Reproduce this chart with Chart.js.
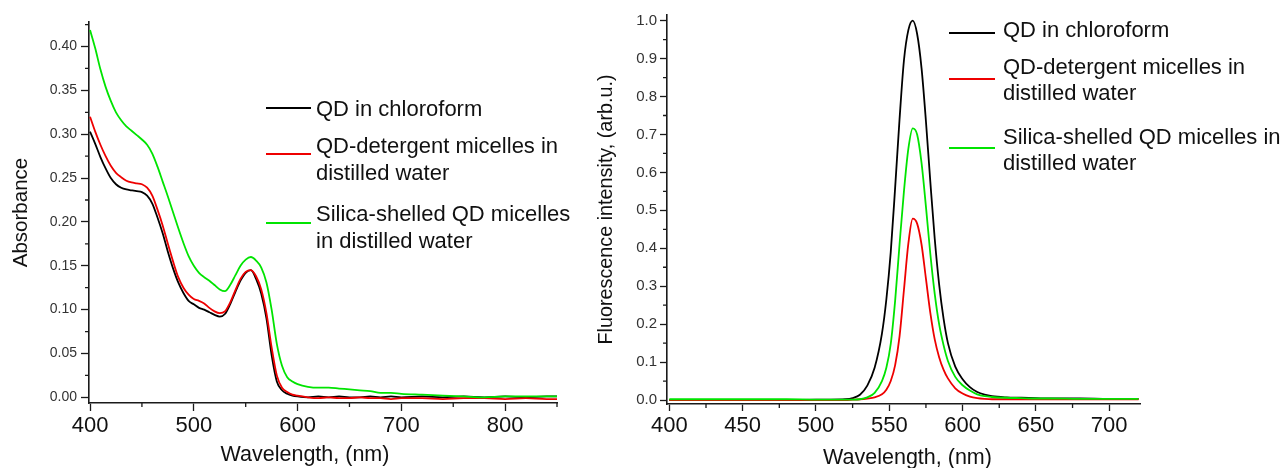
<!DOCTYPE html>
<html>
<head>
<meta charset="utf-8">
<title>QD absorbance and fluorescence spectra</title>
<script src="https://cdn.jsdelivr.net/npm/chart.js@4.4.0/dist/chart.umd.min.js"></script>
<style>
  html, body { margin: 0; padding: 0; background: #fff; }
  #wrap { position: relative; width: 1283px; height: 468px; overflow: hidden; }
  #absCanvas { position: absolute; left: 0; top: 0; }
  #flCanvas { position: absolute; left: 580px; top: 0; }
</style>
</head>
<body>
<div id="wrap">
  <canvas id="absCanvas" width="580" height="468"></canvas>
  <canvas id="flCanvas" width="703" height="468"></canvas>
</div>
<script>
// ---- Absorbance spectra (left panel) ----
const absWavelength = [
  400, 405, 410, 415, 420, 425, 430, 435, 440, 445,
  450, 455, 460, 465, 470, 475, 480, 485, 490, 495,
  500, 505, 510, 515, 520, 525, 530, 535, 540, 545,
  550, 555, 560, 565, 570, 575, 580, 585, 590, 595,
  600, 610, 620, 630, 640, 650, 660, 670, 680, 690,
  700, 720, 740, 760, 780, 800, 820, 840, 850
];
const absChloroform = [
  0.303, 0.289, 0.274, 0.261, 0.250, 0.243, 0.239, 0.237, 0.236, 0.235,
  0.234, 0.230, 0.221, 0.205, 0.187, 0.166, 0.147, 0.131, 0.119, 0.110,
  0.106, 0.102, 0.100, 0.097, 0.094, 0.092, 0.095, 0.106, 0.120, 0.133,
  0.142, 0.145, 0.135, 0.118, 0.090, 0.048, 0.018, 0.008, 0.004, 0.002,
  0.001, 0.000, 0.001, 0.000, 0.001, 0.000, 0.000, 0.001, 0.000, 0.001,
  0.000, 0.001, 0.000, 0.001, 0.000, 0.001, 0.000, 0.001, 0.001
];
const absMicelles = [
  0.320, 0.303, 0.288, 0.275, 0.264, 0.256, 0.251, 0.247, 0.245, 0.244,
  0.243, 0.239, 0.230, 0.214, 0.196, 0.175, 0.155, 0.137, 0.125, 0.117,
  0.112, 0.110, 0.107, 0.102, 0.098, 0.096, 0.098, 0.108, 0.122, 0.135,
  0.143, 0.145, 0.138, 0.123, 0.096, 0.057, 0.025, 0.011, 0.006, 0.003,
  0.002, 0.000, -0.001, 0.000, -0.001, -0.001, 0.000, -0.001, -0.001, -0.002,
  -0.001, -0.001, -0.002, -0.001, -0.001, -0.002, -0.001, -0.002, -0.002
];
const absSilica = [
  0.419, 0.398, 0.374, 0.354, 0.338, 0.325, 0.316, 0.309, 0.304, 0.299,
  0.294, 0.288, 0.278, 0.263, 0.246, 0.229, 0.211, 0.193, 0.176, 0.161,
  0.150, 0.142, 0.137, 0.133, 0.128, 0.123, 0.121, 0.128, 0.139, 0.150,
  0.157, 0.160, 0.156, 0.148, 0.131, 0.100, 0.061, 0.036, 0.023, 0.018,
  0.015, 0.012, 0.011, 0.011, 0.010, 0.009, 0.008, 0.007, 0.005, 0.005,
  0.004, 0.003, 0.002, 0.001, 0.000, 0.001, 0.001, 0.001, 0.001
];
const absXTicks = [400, 500, 600, 700, 800];
const absXMinor = [450, 550, 650, 750, 850];
const absYTicks = [0, 0.05, 0.10, 0.15, 0.20, 0.25, 0.30, 0.35, 0.40];
const absYMinor = [0.025, 0.075, 0.125, 0.175, 0.225, 0.275, 0.325, 0.375, 0.425];

// ---- Fluorescence spectra (right panel) ----
const flWavelength = [
  400, 420, 440, 460, 480, 500, 510, 520, 525, 530,
  535, 540, 545, 548, 551, 554, 557, 560, 563, 566,
  569, 572, 575, 578, 581, 584, 587, 590, 595, 600,
  605, 610, 615, 620, 630, 640, 650, 660, 680, 700, 720
];
const flChloroform = [
  0.000, 0.000, 0.000, 0.000, 0.000, 0.001, 0.001, 0.002, 0.005, 0.014,
  0.038, 0.085, 0.175, 0.265, 0.390, 0.560, 0.740, 0.895, 0.975, 1.000,
  0.965, 0.875, 0.735, 0.575, 0.425, 0.305, 0.215, 0.150, 0.088, 0.055,
  0.034, 0.021, 0.014, 0.010, 0.007, 0.006, 0.005, 0.004, 0.004, 0.003, 0.003
];
const flMicelles = [
  0.000, 0.000, 0.000, 0.000, 0.000, 0.000, 0.000, 0.000, 0.001, 0.002,
  0.004, 0.007, 0.015, 0.027, 0.050, 0.092, 0.168, 0.290, 0.412, 0.478,
  0.465, 0.410, 0.320, 0.230, 0.160, 0.113, 0.080, 0.057, 0.031, 0.017,
  0.009, 0.005, 0.003, 0.002, 0.002, 0.002, 0.002, 0.002, 0.002, 0.002, 0.002
];
const flSilica = [
  0.002, 0.002, 0.002, 0.002, 0.002, 0.001, 0.001, 0.001, 0.001, 0.002,
  0.007, 0.019, 0.050, 0.085, 0.148, 0.262, 0.410, 0.550, 0.662, 0.716,
  0.700, 0.625, 0.510, 0.385, 0.280, 0.200, 0.145, 0.103, 0.061, 0.039,
  0.025, 0.015, 0.010, 0.008, 0.006, 0.005, 0.004, 0.004, 0.003, 0.003, 0.003
];
const flXTicks = [400, 450, 500, 550, 600, 650, 700];
const flXMinor = [425, 475, 525, 575, 625, 675];
const flYTicks = [0, 0.1, 0.2, 0.3, 0.4, 0.5, 0.6, 0.7, 0.8, 0.9, 1.0];
const flYMinor = [0.05, 0.15, 0.25, 0.35, 0.45, 0.55, 0.65, 0.75, 0.85, 0.95];

const seriesNames = [
  'QD in chloroform',
  'QD-detergent micelles in distilled water',
  'Silica-shelled QD micelles in distilled water'
];
const absLegendLines = [
  ['QD in chloroform'],
  ['QD-detergent micelles in', 'distilled water'],
  ['Silica-shelled QD micelles', 'in distilled water']
];
const flLegendLines = [
  ['QD in chloroform'],
  ['QD-detergent micelles in', 'distilled water'],
  ['Silica-shelled QD micelles in', 'distilled water']
];
const seriesColors = ['#000000', '#ee0000', '#00e400'];

const FONT = "Arial, 'Liberation Sans', sans-serif";
const AXIS_COLOR = '#1a1a1a';
Chart.defaults.font.family = FONT;

// small ticks between the labelled ones
const minorTicks = {
  id: 'minorTicks',
  afterDraw(chart, args, opts) {
    const ctx = chart.ctx;
    const xs = chart.scales.x, ys = chart.scales.y;
    ctx.save();
    ctx.strokeStyle = AXIS_COLOR;
    ctx.lineWidth = 1.3;
    ctx.beginPath();
    opts.xValues.forEach(v => {
      const px = xs.getPixelForValue(v);
      ctx.moveTo(px, xs.top);
      ctx.lineTo(px, xs.top + opts.length);
    });
    opts.yValues.forEach(v => {
      const py = ys.getPixelForValue(v);
      ctx.moveTo(ys.right, py);
      ctx.lineTo(ys.right - opts.length, py);
    });
    ctx.stroke();
    ctx.restore();
  }
};

// legend with line samples and wrapped labels
const sideLegend = {
  id: 'sideLegend',
  afterDraw(chart, args, opts) {
    const ctx = chart.ctx;
    ctx.save();
    ctx.font = opts.font;
    ctx.fillStyle = '#111';
    ctx.textBaseline = 'alphabetic';
    chart.data.datasets.forEach((ds, i) => {
      ctx.strokeStyle = ds.borderColor;
      ctx.lineWidth = 2;
      ctx.beginPath();
      ctx.moveTo(opts.x, opts.markerY[i]);
      ctx.lineTo(opts.x + opts.lineLength, opts.markerY[i]);
      ctx.stroke();
      opts.lines[i].forEach((t, k) => {
        ctx.fillText(t, opts.x + opts.lineLength + opts.gap, opts.textY[i] + k * opts.rowHeight);
      });
    });
    ctx.restore();
  }
};

// x axis caption placed off-centre under the axis
const xCaption = {
  id: 'xCaption',
  afterDraw(chart, args, opts) {
    if (!opts.text) return;
    const ctx = chart.ctx;
    const area = chart.chartArea;
    ctx.save();
    ctx.font = opts.font;
    ctx.fillStyle = '#111';
    ctx.textAlign = 'center';
    ctx.textBaseline = 'middle';
    ctx.fillText(opts.text, (area.left + area.right) / 2 + opts.dx, opts.y);
    ctx.restore();
  }
};

function makeDatasets(xs, series) {
  return series.map((vals, i) => ({
    label: seriesNames[i],
    data: xs.map((w, k) => ({ x: w, y: vals[k] })),
    borderColor: seriesColors[i],
    borderWidth: 1.8,
    pointRadius: 0,
    cubicInterpolationMode: 'monotone',
    order: 2 - i
  }));
}

function axis(opts) {
  return {
    type: 'linear',
    min: opts.min,
    max: opts.max,
    afterBuildTicks: s => { s.ticks = opts.ticks.map(v => ({ value: v })); },
    afterFit: s => { if (opts.width) s.width = opts.width; if (opts.height) s.height = opts.height; },
    border: { display: true, color: AXIS_COLOR, width: 1.6 },
    grid: { drawOnChartArea: false, drawTicks: true, tickLength: opts.tickLength, tickColor: AXIS_COLOR, tickWidth: 1.3 },
    ticks: {
      color: opts.labelColor,
      font: { size: opts.labelSize },
      padding: opts.labelPad,
      maxRotation: 0,
      autoSkip: false,
      callback: v => opts.decimals === 0 ? String(v) : Number(v).toFixed(opts.decimals)
    },
    title: {
      display: !!opts.title,
      text: opts.title || '',
      color: '#111',
      font: { size: opts.titleSize },
      padding: opts.titlePad
    }
  };
}

new Chart(document.getElementById('absCanvas'), {
  type: 'line',
  data: { datasets: makeDatasets(absWavelength, [absChloroform, absMicelles, absSilica]) },
  options: {
    responsive: false,
    animation: false,
    layout: { padding: { top: 22, right: 23, left: 0, bottom: 0 } },
    scales: {
      x: axis({ min: 399, max: 850, ticks: absXTicks, height: 65, tickLength: 8,
                labelColor: '#111', labelSize: 22, labelPad: 2, decimals: 0 }),
      y: axis({ min: -0.0065, max: 0.428, ticks: absYTicks, width: 89, tickLength: 8,
                labelColor: '#333', labelSize: 14, labelPad: 4, decimals: 2,
                title: 'Absorbance', titleSize: 20.5, titlePad: { top: 9, bottom: 0 } })
    },
    plugins: {
      legend: { display: false },
      tooltip: { enabled: false },
      minorTicks: { xValues: absXMinor, yValues: absYMinor, length: 4 },
      xCaption: { text: 'Wavelength, (nm)', font: '21.5px ' + FONT, dx: -18, y: 455 },
      sideLegend: {
        x: 266, lineLength: 45, gap: 5, rowHeight: 27,
        markerY: [108, 154, 223], textY: [115.5, 152.5, 220.5],
        lines: absLegendLines, font: '22px ' + FONT
      }
    }
  },
  plugins: [minorTicks, sideLegend, xCaption]
});

new Chart(document.getElementById('flCanvas'), {
  type: 'line',
  data: { datasets: makeDatasets(flWavelength, [flChloroform, flMicelles, flSilica]) },
  options: {
    responsive: false,
    animation: false,
    layout: { padding: { top: 15, right: 143, left: 0, bottom: 0 } },
    scales: {
      x: axis({ min: 398.4, max: 721, ticks: flXTicks, height: 64, tickLength: 7,
                labelColor: '#111', labelSize: 22, labelPad: 2, decimals: 0 }),
      y: axis({ min: -0.0105, max: 1.015, ticks: flYTicks, width: 87, tickLength: 7,
                labelColor: '#333', labelSize: 15, labelPad: 3, decimals: 1,
                title: 'Fluorescence intensity, (arb.u.)', titleSize: 19.8, titlePad: { top: 15, bottom: 0 } })
    },
    plugins: {
      legend: { display: false },
      tooltip: { enabled: false },
      minorTicks: { xValues: flXMinor, yValues: flYMinor, length: 4 },
      xCaption: { text: 'Wavelength, (nm)', font: '21.5px ' + FONT, dx: 4, y: 458 },
      sideLegend: {
        x: 369, lineLength: 46, gap: 8, rowHeight: 26.5,
        markerY: [33, 79, 148], textY: [37, 73.5, 143.5],
        lines: flLegendLines, font: '22px ' + FONT
      }
    }
  },
  plugins: [minorTicks, sideLegend, xCaption]
});
</script>
</body>
</html>
